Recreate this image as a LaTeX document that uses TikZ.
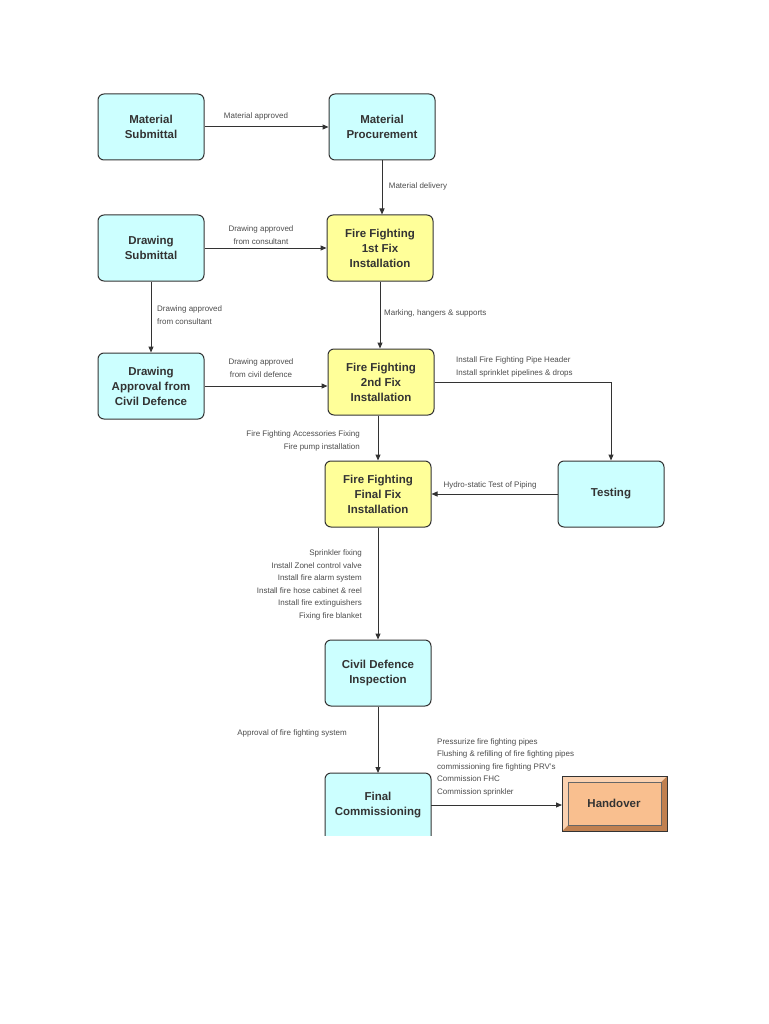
\documentclass[tikz,border=0pt]{standalone}
\usepackage{fontspec}
\setmainfont{Liberation Sans}
\usetikzlibrary{arrows.meta}
\definecolor{cy}{HTML}{CCFFFF}
\definecolor{ye}{HTML}{FFFF99}
\definecolor{ho}{HTML}{F9BF8F}
\definecolor{hod}{HTML}{C08050}
\begin{document}
\begin{tikzpicture}[x=1pt,y=-1pt,
 box/.style={draw=black!80,line width=1pt,rounded corners=6pt,minimum width=106pt,minimum height=66pt,align=center,font=\fontsize{11.5}{15}\selectfont\bfseries,text=black!80},
 cb/.style={box,fill=cy}, yb/.style={box,fill=ye},
 lab/.style={font=\fontsize{8}{12.5}\selectfont,text=black!70,inner sep=0pt},
 ar/.style={-{Triangle[length=6pt,width=5pt]},line width=1pt,draw=black!80}]
\useasboundingbox (0,0) rectangle (768,1024);
\node[cb] (ms) at (151,127) {Material\\Submittal};
\node[cb] (mp) at (382,127) {Material\\Procurement};
\node[cb] (ds) at (151,248) {Drawing\\Submittal};
\node[yb] (f1) at (380,248) {Fire Fighting\\1st Fix\\Installation};
\node[cb] (da) at (151,386) {Drawing\\Approval from\\Civil Defence};
\node[yb] (f2) at (381,382) {Fire Fighting\\2nd Fix\\Installation};
\node[cb] (te) at (611,494) {Testing};
\node[yb] (ff) at (378,494) {Fire Fighting\\Final Fix\\Installation};
\node[cb] (ci) at (378,673) {Civil Defence\\Inspection};
\begin{scope}
\clip (300,760) rectangle (460,835);
\node[cb,minimum height=70pt] (fc) at (378,808) {};
\end{scope}
\node[font=\fontsize{11.5}{15}\selectfont\bfseries,text=black!80,align=center] (fct) at (378,805) {Final\\Commissioning};
\coordinate (fcr) at (431,805);
\coordinate (fct0) at (378,773);
% handover
\fill[hod] (562,776) rectangle (667,831);
\fill[ho!70!white] (562,776) -- (667,776) -- (661,782) -- (568,782) -- (568,825) -- (562,831) -- cycle;
\fill[ho] (568,782) rectangle (661,825);
\draw[black!80,line width=1pt] (562,776) rectangle (667,831);
\draw[black!60,line width=0.4pt] (568,782) rectangle (661,825);
\node[font=\fontsize{11.5}{15}\selectfont\bfseries,text=black!80] (ho) at (614,803) {Handover};
\coordinate (hol) at (562,805);
% edges
\draw[ar] (ms.east) -- (ms.east -| mp.west);
\node[lab] at (256,116) {Material approved};
\draw[ar] (mp.south) -- (mp.south |- f1.north);
\node[lab] at (418,186) {Material delivery};
\draw[ar] (ds.east) -- (f1.west);
\node[lab,align=center] at (261,235) {Drawing approved\\from consultant};
\draw[ar] (ds.south) -- (da.north);
\node[lab,align=left,anchor=west] at (157,315) {Drawing approved\\from consultant};
\draw[ar] (f1.south) -- (f1.south |- f2.north);
\node[lab,anchor=west] at (384,313) {Marking, hangers \& supports};
\draw[ar] (da.east) -- (da.east -| f2.west);
\node[lab,align=center] at (261,368) {Drawing approved\\from civil defence};
\coordinate (tc) at (611,382);
\draw[ar] (f2.east) -- (tc) -- (te.north);
\node[lab,align=left,anchor=west] at (456,367) {Install Fire Fighting Pipe Header\\Install sprinklet pipelines \& drops};
\draw[ar] (f2.south -| ff.north) -- (ff.north);
\node[lab,align=right,anchor=east] at (360,441) {Fire Fighting Accessories Fixing\\Fire pump installation};
\draw[ar] (te.west) -- (ff.east);
\node[lab] at (490,485) {Hydro-static Test of Piping};
\draw[ar] (ff.south) -- (ci.north);
\node[lab,align=right,anchor=east] at (362,585) {Sprinkler fixing\\Install Zonel control valve\\Install fire alarm system\\Install fire hose cabinet \& reel\\Install fire extinguishers\\Fixing fire blanket};
\draw[ar] (ci.south) -- (fct0);
\node[lab] at (292,733) {Approval of fire fighting system};
\draw[ar] (fcr) -- (hol);
\node[lab,align=left,anchor=west] at (437,767) {Pressurize fire fighting pipes\\Flushing \& refilling of fire fighting pipes\\commissioning fire fighting PRV's\\Commission FHC\\Commission sprinkler};
\end{tikzpicture}
\end{document}
